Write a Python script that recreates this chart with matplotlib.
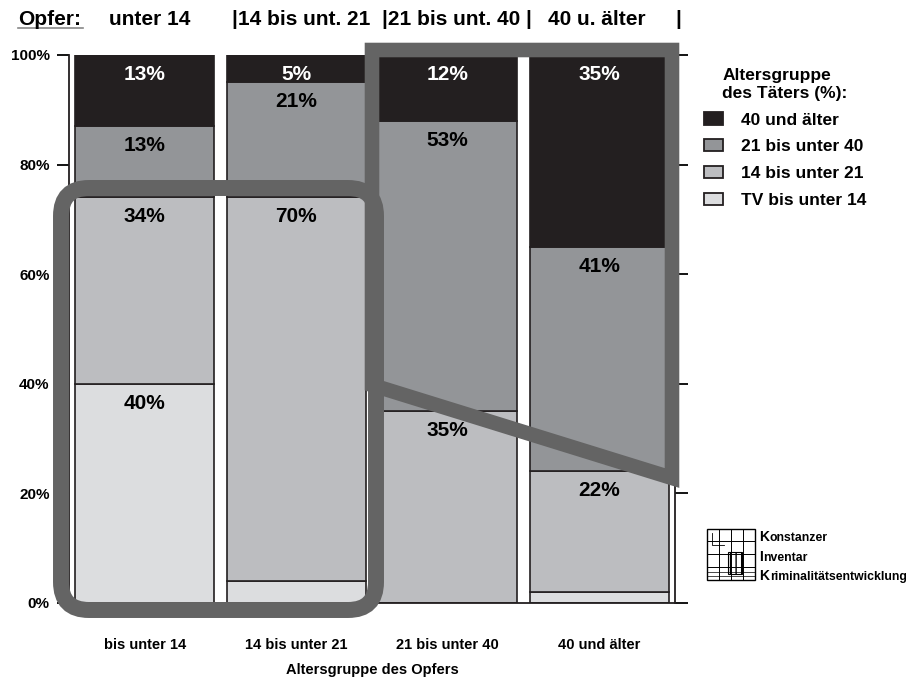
"""
plot.py

Taeter-Altersgruppen je Altersgruppe des Opfers (gestapelte 100%-Balken)
"""

import matplotlib
matplotlib.use("Agg")
import matplotlib.pyplot as plt
from matplotlib.patches import Patch, FancyBboxPatch, Polygon, Rectangle

plt.rcParams['font.family'] = ['Liberation Sans', 'DejaVu Sans']
plt.rcParams['font.weight'] = 'bold'

# data
categories = ['bis unter 14', '14 bis unter 21', '21 bis unter 40', '40 und älter']
tv_unter_14 = [40, 4, 0, 2]
tv_14_21 = [34, 70, 35, 22]
tv_21_40 = [13, 21, 53, 41]
tv_40_plus = [13, 5, 12, 35]
series_names = ['TV bis unter 14', '14 bis unter 21', '21 bis unter 40', '40 und älter']
y_ticks = [0, 20, 40, 60, 80, 100]
header = ['unter 14', '|14 bis unt. 21', '|21 bis unt. 40 |', '40 u. älter', '|']

colors = ['#dcdddf', '#bcbdc0', '#939598', '#231f20']
text_colors = ['black', 'black', 'black', 'white']
edge = '#231f20'
overlay = '#646464'

W, H = 916, 686
fig = plt.figure(figsize=(W / 100, H / 100), dpi=100)
ax = fig.add_axes([69 / W, 83 / H, 606 / W, 548 / H])

series = [tv_unter_14, tv_14_21, tv_21_40, tv_40_plus]
x = list(range(len(categories)))
bottom = [0] * len(categories)
for vals, col, tcol in zip(series, colors, text_colors):
    ax.bar(x, vals, width=0.917, bottom=bottom, color=col, edgecolor=edge,
           linewidth=1.2, zorder=2)
    for i, v in enumerate(vals):
        top = bottom[i] + v
        if v >= 5:
            ax.annotate(f'{v}%', xy=(i, top), xytext=(0, -14), textcoords='offset points',
                        ha='center', va='center', fontsize=15, fontweight='bold',
                        color=tcol, zorder=3)
    bottom = [b + v for b, v in zip(bottom, vals)]

ax.set_xlim(-0.5, 3.5)
ax.set_ylim(0, 100)
ax.set_yticks(y_ticks)
ax.set_yticklabels([f'{t}%' for t in y_ticks], fontsize=11, fontweight='bold')
ax.tick_params(axis='y', direction='out', length=9, width=1.3, pad=5,
               left=True, right=True, labelright=False)
ax.set_xticks(x)
ax.set_xticklabels(categories, fontsize=10.5, fontweight='bold')
ax.tick_params(axis='x', length=0, pad=25)
ax.set_xlabel('Altersgruppe des Opfers', fontsize=10.5, fontweight='bold', labelpad=8)
ax.spines['top'].set_visible(False)
for s in ['left', 'right', 'bottom']:
    ax.spines[s].set_linewidth(1.3)
    ax.spines[s].set_color(edge)

# legend
handles = [Patch(facecolor=c, edgecolor=edge, linewidth=1.3) for c in colors][::-1]
leg = fig.legend(handles, series_names[::-1], loc='upper left',
                 bbox_to_anchor=(692 / W, 1 - 56 / H), frameon=False,
                 title='Altersgruppe\ndes Täters (%):', fontsize=12.5,
                 title_fontproperties={'weight': 'bold', 'size': 12.5},
                 handlelength=1.1, handleheight=0.7, handletextpad=1.0,
                 labelspacing=0.68, borderpad=0.2)
for t in leg.get_texts():
    t.set_fontweight('bold')

# overlay in pixel coordinates
ov = fig.add_axes([0, 0, 1, 1])
ov.set_xlim(0, W)
ov.set_ylim(H, 0)
ov.axis('off')
ov.patch.set_alpha(0)

ov.add_patch(FancyBboxPatch((61, 188), 315, 422, boxstyle='round,pad=0,rounding_size=28',
                            fill=False, edgecolor=overlay, linewidth=11.5, zorder=5))
ov.add_patch(Polygon([(372, 50), (672, 50), (672, 478), (372, 385)], closed=True,
                     fill=False, edgecolor=overlay, linewidth=10.5, joinstyle='miter', zorder=5))

# header
ov.text(18, 25, 'Opfer:', fontsize=15, fontweight='bold', va='baseline', color='black')
ov.plot([18, 83], [28, 28], color='#888888', lw=1.2)
for lab, hx in zip(header, [109, 232, 382, 548, 675]):
    ov.text(hx, 25, lab, fontsize=15, fontweight='bold', va='baseline', color='black')

# logo
lx0, ly0, lx1, ly1 = 707, 529, 755, 580
ov.add_patch(Rectangle((lx0, ly0), lx1 - lx0, ly1 - ly0, fill=False, edgecolor='black', lw=1.0))
for gx in [719, 731, 743]:
    ov.plot([gx, gx], [ly0, ly1], color='black', lw=0.7)
for gy in [541, 554, 567]:
    ov.plot([lx0, lx1], [gy, gy], color='black', lw=0.7)
for gy in [572, 576]:
    ov.plot([lx0, lx1], [gy, gy], color='black', lw=0.5)
ov.add_patch(Rectangle((728, 552), 14, 22, fill=False, edgecolor='black', lw=0.8, hatch='|||'))
ov.plot([712, 712, 724], [533, 545, 545], color='black', lw=0.6)
for first, rest, ty, off in [('K', 'onstanzer', 541, 11), ('I', 'nventar', 561, 4.5),
                             ('K', 'riminalitätsentwicklung', 580, 11)]:
    ov.text(759, ty, first, fontsize=10, fontweight='bold', va='baseline')
    ov.text(759 + off, ty, rest, fontsize=8.8, fontweight='bold', va='baseline')

fig.savefig('out.png', dpi=100)
